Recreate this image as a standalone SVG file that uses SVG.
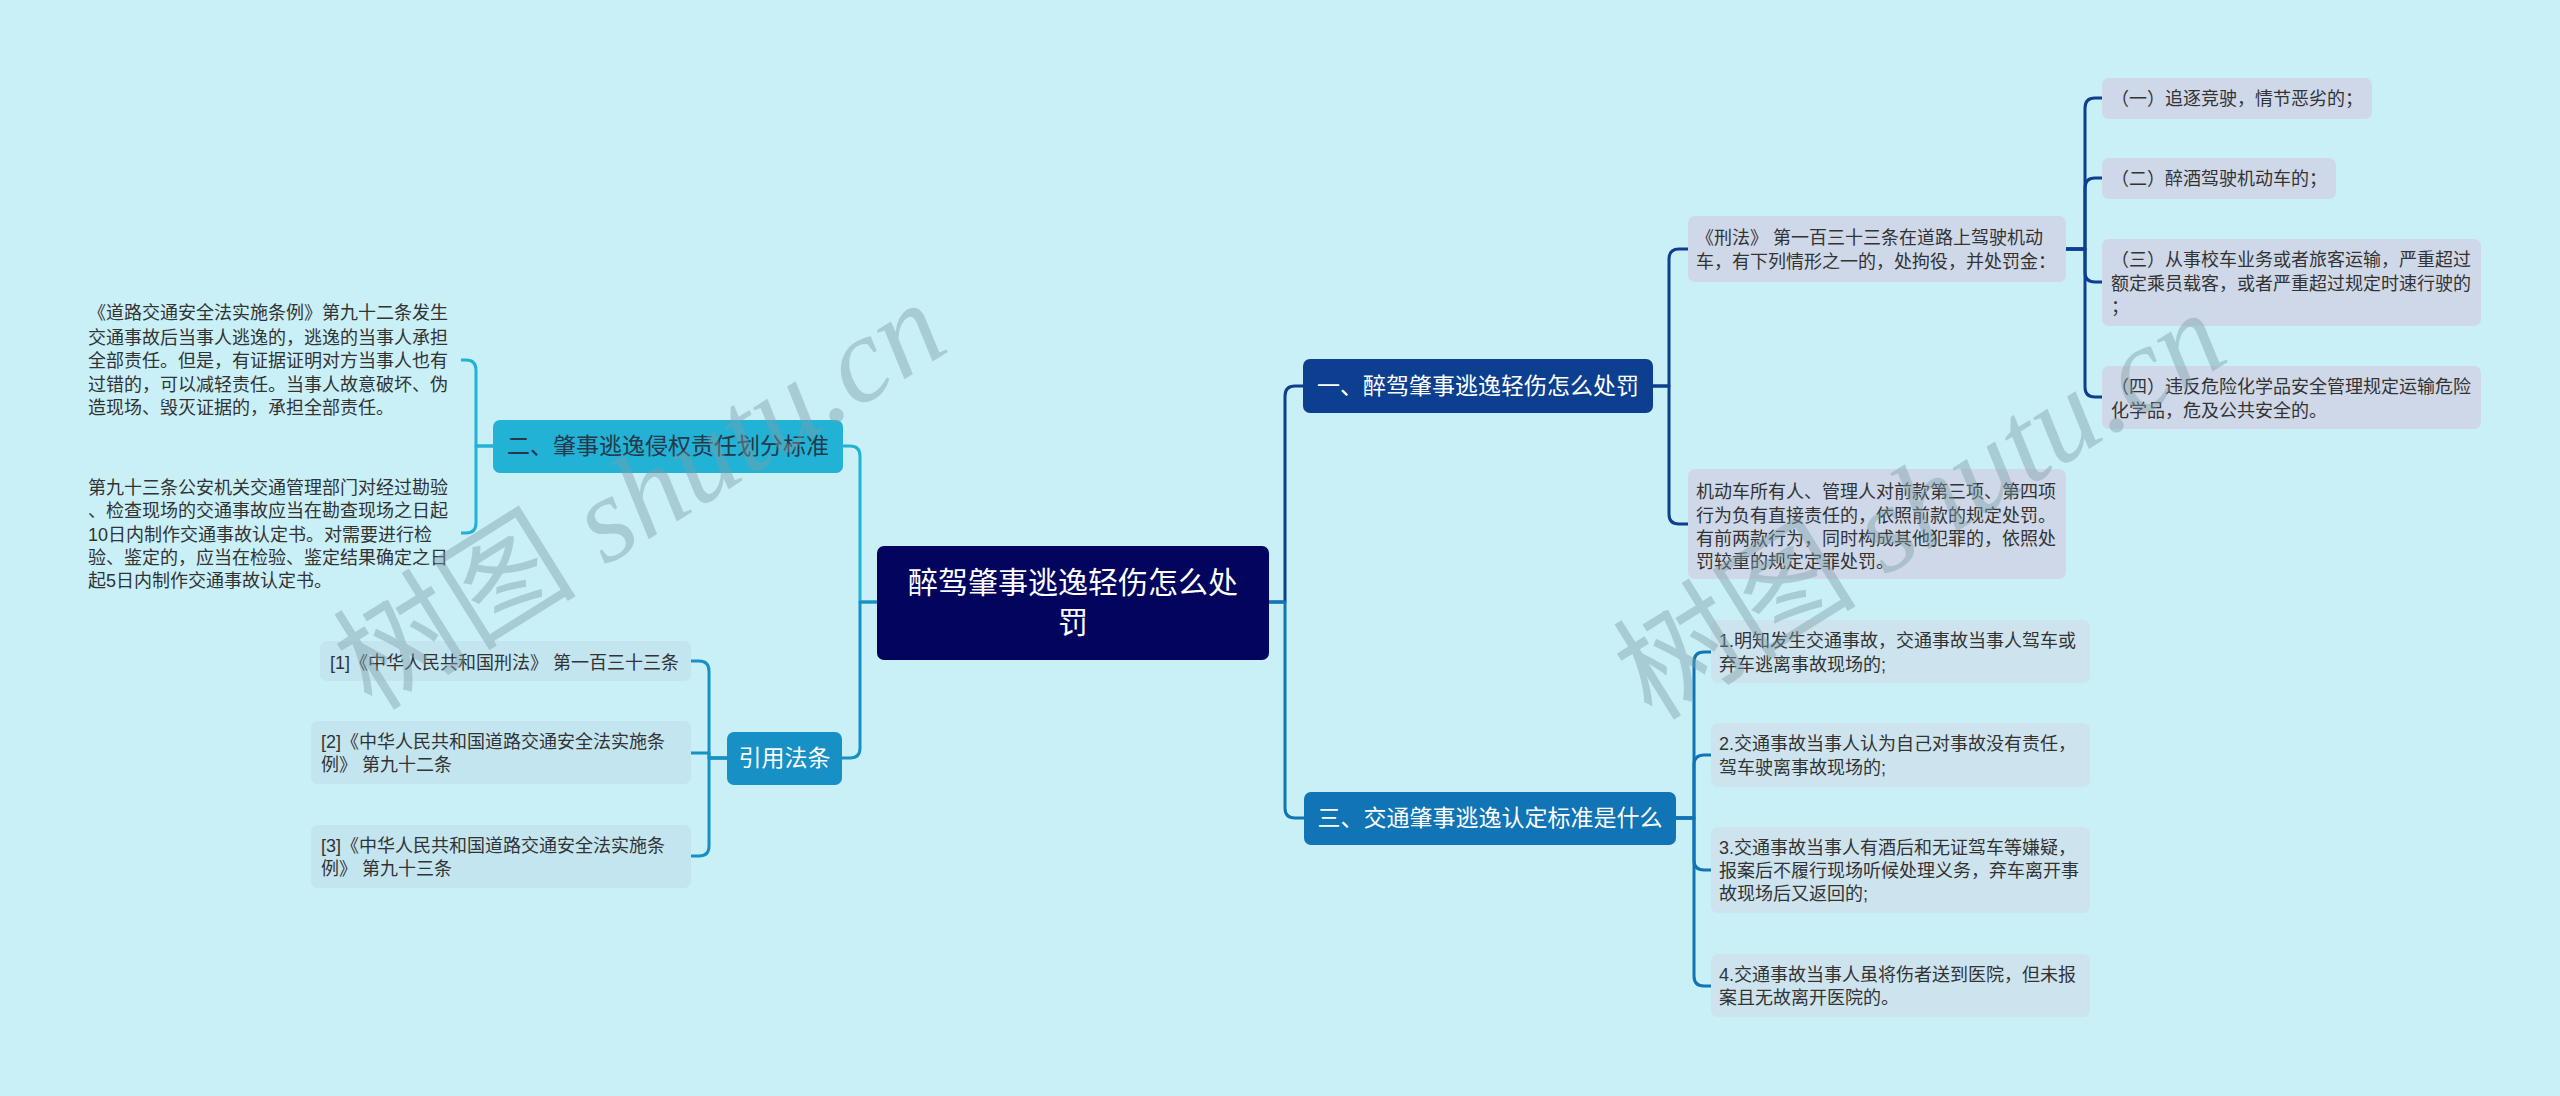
<svg xmlns="http://www.w3.org/2000/svg" width="2560" height="1096" viewBox="0 0 2560 1096">
<style>
text{font-family:"Liberation Sans","Noto Sans CJK SC",sans-serif;}
.root{font-size:30px;fill:#ffffff;text-anchor:middle;}
.l1{font-size:23px;fill:#ffffff;text-anchor:middle;}
.l1d{font-size:23px;fill:#26384a;text-anchor:middle;}
.leaf{font-size:18px;fill:#333333;}
.c{fill:none;stroke-width:3;stroke-linejoin:round;}
.wm{font-size:122px;fill:#7d9ea8;opacity:0.42;}
</style>
<rect x="0" y="0" width="2560" height="1096" fill="#c9eff7"/>

<g id="connectors">
  <path class="c" stroke="#0c3f8f" d="M1269,602 H1285 V396 Q1285,386 1295,386 H1303"/>
  <path class="c" stroke="#1074b5" d="M1269,602 H1285 V808 Q1285,818 1295,818 H1304"/>
  <path class="c" stroke="#22b2d5" d="M877,602 H860 V456 Q860,446 850,446 H843"/>
  <path class="c" stroke="#1790c6" d="M877,602 H860 V748 Q860,758 850,758 H842"/>

  <path class="c" stroke="#0c3f8f" d="M1653,386 H1669 V259 Q1669,249 1679,249 H1688"/>
  <path class="c" stroke="#0c3f8f" d="M1653,386 H1669 V514 Q1669,524 1679,524 H1688"/>

  <path class="c" stroke="#0c3f8f" d="M2066,249 H2085 V108 Q2085,98 2095,98 H2102"/>
  <path class="c" stroke="#0c3f8f" d="M2066,249 H2085 V188 Q2085,178 2095,178 H2102"/>
  <path class="c" stroke="#0c3f8f" d="M2066,249 H2085 V272 Q2085,282 2095,282 H2102"/>
  <path class="c" stroke="#0c3f8f" d="M2066,249 H2085 V387 Q2085,397 2095,397 H2102"/>

  <path class="c" stroke="#1074b5" d="M1676,818 H1694 V662 Q1694,652 1704,652 H1711"/>
  <path class="c" stroke="#1074b5" d="M1676,818 H1694 V765 Q1694,755 1704,755 H1711"/>
  <path class="c" stroke="#1074b5" d="M1676,818 H1694 V860 Q1694,870 1704,870 H1711"/>
  <path class="c" stroke="#1074b5" d="M1676,818 H1694 V976 Q1694,986 1704,986 H1711"/>

  <path class="c" stroke="#22b2d5" d="M493,446 H476 V370 Q476,360 466,360 H461"/>
  <path class="c" stroke="#22b2d5" d="M493,446 H476 V523 Q476,533 466,533 H461"/>

  <path class="c" stroke="#1790c6" d="M727,758 H709 V671 Q709,661 699,661 H691"/>
  <path class="c" stroke="#1790c6" d="M727,758 H709 V753 H691"/>
  <path class="c" stroke="#1790c6" d="M727,758 H709 V846 Q709,856 699,856 H691"/>
</g>

<g id="root">
  <rect x="877" y="546" width="392" height="114" rx="7" fill="#03045e"/>
  <text class="root" x="1073" y="593">醉驾肇事逃逸轻伤怎么处</text>
  <text class="root" x="1073" y="633">罚</text>
</g>

<g id="n1">
  <rect x="1303" y="359" width="350" height="54" rx="7" fill="#0c3f8f"/>
  <text class="l1" x="1478" y="394">一、醉驾肇事逃逸轻伤怎么处罚</text>
</g>
<g id="n3">
  <rect x="1304" y="792" width="372" height="53" rx="7" fill="#1074b5"/>
  <text class="l1" x="1490" y="826">三、交通肇事逃逸认定标准是什么</text>
</g>
<g id="n2">
  <rect x="493" y="420" width="350" height="53" rx="7" fill="#22b2d5"/>
  <text class="l1d" x="668" y="454">二、肇事逃逸侵权责任划分标准</text>
</g>
<g id="n4">
  <rect x="727" y="732" width="115" height="53" rx="7" fill="#1790c6"/>
  <text class="l1" x="784.5" y="766">引用法条</text>
</g>

<g id="leafA">
  <rect x="1688" y="216" width="378" height="66" rx="7" fill="#cfd8e8"/>
  <text class="leaf" x="1696" y="244">《刑法》 第一百三十三条在道路上驾驶机动</text>
  <text class="leaf" x="1696" y="268">车，有下列情形之一的，处拘役，并处罚金：</text>
</g>
<g id="leafB">
  <rect x="1688" y="469" width="378" height="110" rx="7" fill="#cfd8e8"/>
  <text class="leaf" x="1696" y="498">机动车所有人、管理人对前款第三项、第四项</text>
  <text class="leaf" x="1696" y="522">行为负有直接责任的，依照前款的规定处罚。</text>
  <text class="leaf" x="1696" y="545">有前两款行为，同时构成其他犯罪的，依照处</text>
  <text class="leaf" x="1696" y="568">罚较重的规定定罪处罚。</text>
</g>

<g id="a1">
  <rect x="2102" y="78" width="270" height="41" rx="7" fill="#cfd8e8"/>
  <text class="leaf" x="2111" y="105">（一）追逐竞驶，情节恶劣的；</text>
</g>
<g id="a2">
  <rect x="2102" y="158" width="234" height="41" rx="7" fill="#cfd8e8"/>
  <text class="leaf" x="2111" y="185">（二）醉酒驾驶机动车的；</text>
</g>
<g id="a3">
  <rect x="2102" y="239" width="379" height="87" rx="7" fill="#cfd8e8"/>
  <text class="leaf" x="2111" y="266">（三）从事校车业务或者旅客运输，严重超过</text>
  <text class="leaf" x="2111" y="290">额定乘员载客，或者严重超过规定时速行驶的</text>
  <text class="leaf" x="2111" y="313">；</text>
</g>
<g id="a4">
  <rect x="2102" y="366" width="379" height="63" rx="7" fill="#cfd8e8"/>
  <text class="leaf" x="2111" y="393">（四）违反危险化学品安全管理规定运输危险</text>
  <text class="leaf" x="2111" y="417">化学品，危及公共安全的。</text>
</g>

<g id="b1">
  <rect x="1711" y="620" width="379" height="63" rx="7" fill="#cde3ee"/>
  <text class="leaf" x="1719" y="647">1.明知发生交通事故，交通事故当事人驾车或</text>
  <text class="leaf" x="1719" y="671">弃车逃离事故现场的;</text>
</g>
<g id="b2">
  <rect x="1711" y="723" width="379" height="64" rx="7" fill="#cde3ee"/>
  <text class="leaf" x="1719" y="750">2.交通事故当事人认为自己对事故没有责任，</text>
  <text class="leaf" x="1719" y="774">驾车驶离事故现场的;</text>
</g>
<g id="b3">
  <rect x="1711" y="827" width="379" height="86" rx="7" fill="#cde3ee"/>
  <text class="leaf" x="1719" y="854">3.交通事故当事人有酒后和无证驾车等嫌疑，</text>
  <text class="leaf" x="1719" y="877">报案后不履行现场听候处理义务，弃车离开事</text>
  <text class="leaf" x="1719" y="900">故现场后又返回的;</text>
</g>
<g id="b4">
  <rect x="1711" y="954" width="379" height="63" rx="7" fill="#cde3ee"/>
  <text class="leaf" x="1719" y="981">4.交通事故当事人虽将伤者送到医院，但未报</text>
  <text class="leaf" x="1719" y="1004">案且无故离开医院的。</text>
</g>

<g id="c1">
  <text class="leaf" x="88" y="319">《道路交通安全法实施条例》第九十二条发生</text>
  <text class="leaf" x="88" y="344">交通事故后当事人逃逸的，逃逸的当事人承担</text>
  <text class="leaf" x="88" y="367">全部责任。但是，有证据证明对方当事人也有</text>
  <text class="leaf" x="88" y="391">过错的，可以减轻责任。当事人故意破坏、伪</text>
  <text class="leaf" x="88" y="414">造现场、毁灭证据的，承担全部责任。</text>
</g>
<g id="c2">
  <text class="leaf" x="88" y="494">第九十三条公安机关交通管理部门对经过勘验</text>
  <text class="leaf" x="88" y="517">、检查现场的交通事故应当在勘查现场之日起</text>
  <text class="leaf" x="88" y="541">10日内制作交通事故认定书。对需要进行检</text>
  <text class="leaf" x="88" y="564">验、鉴定的，应当在检验、鉴定结果确定之日</text>
  <text class="leaf" x="88" y="587">起5日内制作交通事故认定书。</text>
</g>

<g id="d1">
  <rect x="320" y="641" width="371" height="40" rx="7" fill="#c3e5f0"/>
  <text class="leaf" x="330" y="669">[1]《中华人民共和国刑法》 第一百三十三条</text>
</g>
<g id="d2">
  <rect x="311" y="721" width="380" height="63" rx="7" fill="#c3e5f0"/>
  <text class="leaf" x="321" y="748">[2]《中华人民共和国道路交通安全法实施条</text>
  <text class="leaf" x="321" y="771">例》 第九十二条</text>
</g>
<g id="d3">
  <rect x="311" y="825" width="380" height="63" rx="7" fill="#c3e5f0"/>
  <text class="leaf" x="321" y="852">[3]《中华人民共和国道路交通安全法实施条</text>
  <text class="leaf" x="321" y="875">例》 第九十三条</text>
</g>

<g id="watermarks">
  <text class="wm" transform="translate(372,712) rotate(-32)"><tspan font-family="Noto Sans CJK SC, sans-serif">树图</tspan><tspan font-family="Liberation Serif, serif" font-style="italic"> shutu.cn</tspan></text>
  <text class="wm" transform="translate(1652,722) rotate(-32)"><tspan font-family="Noto Sans CJK SC, sans-serif">树图</tspan><tspan font-family="Liberation Serif, serif" font-style="italic"> shutu.cn</tspan></text>
</g>
</svg>
